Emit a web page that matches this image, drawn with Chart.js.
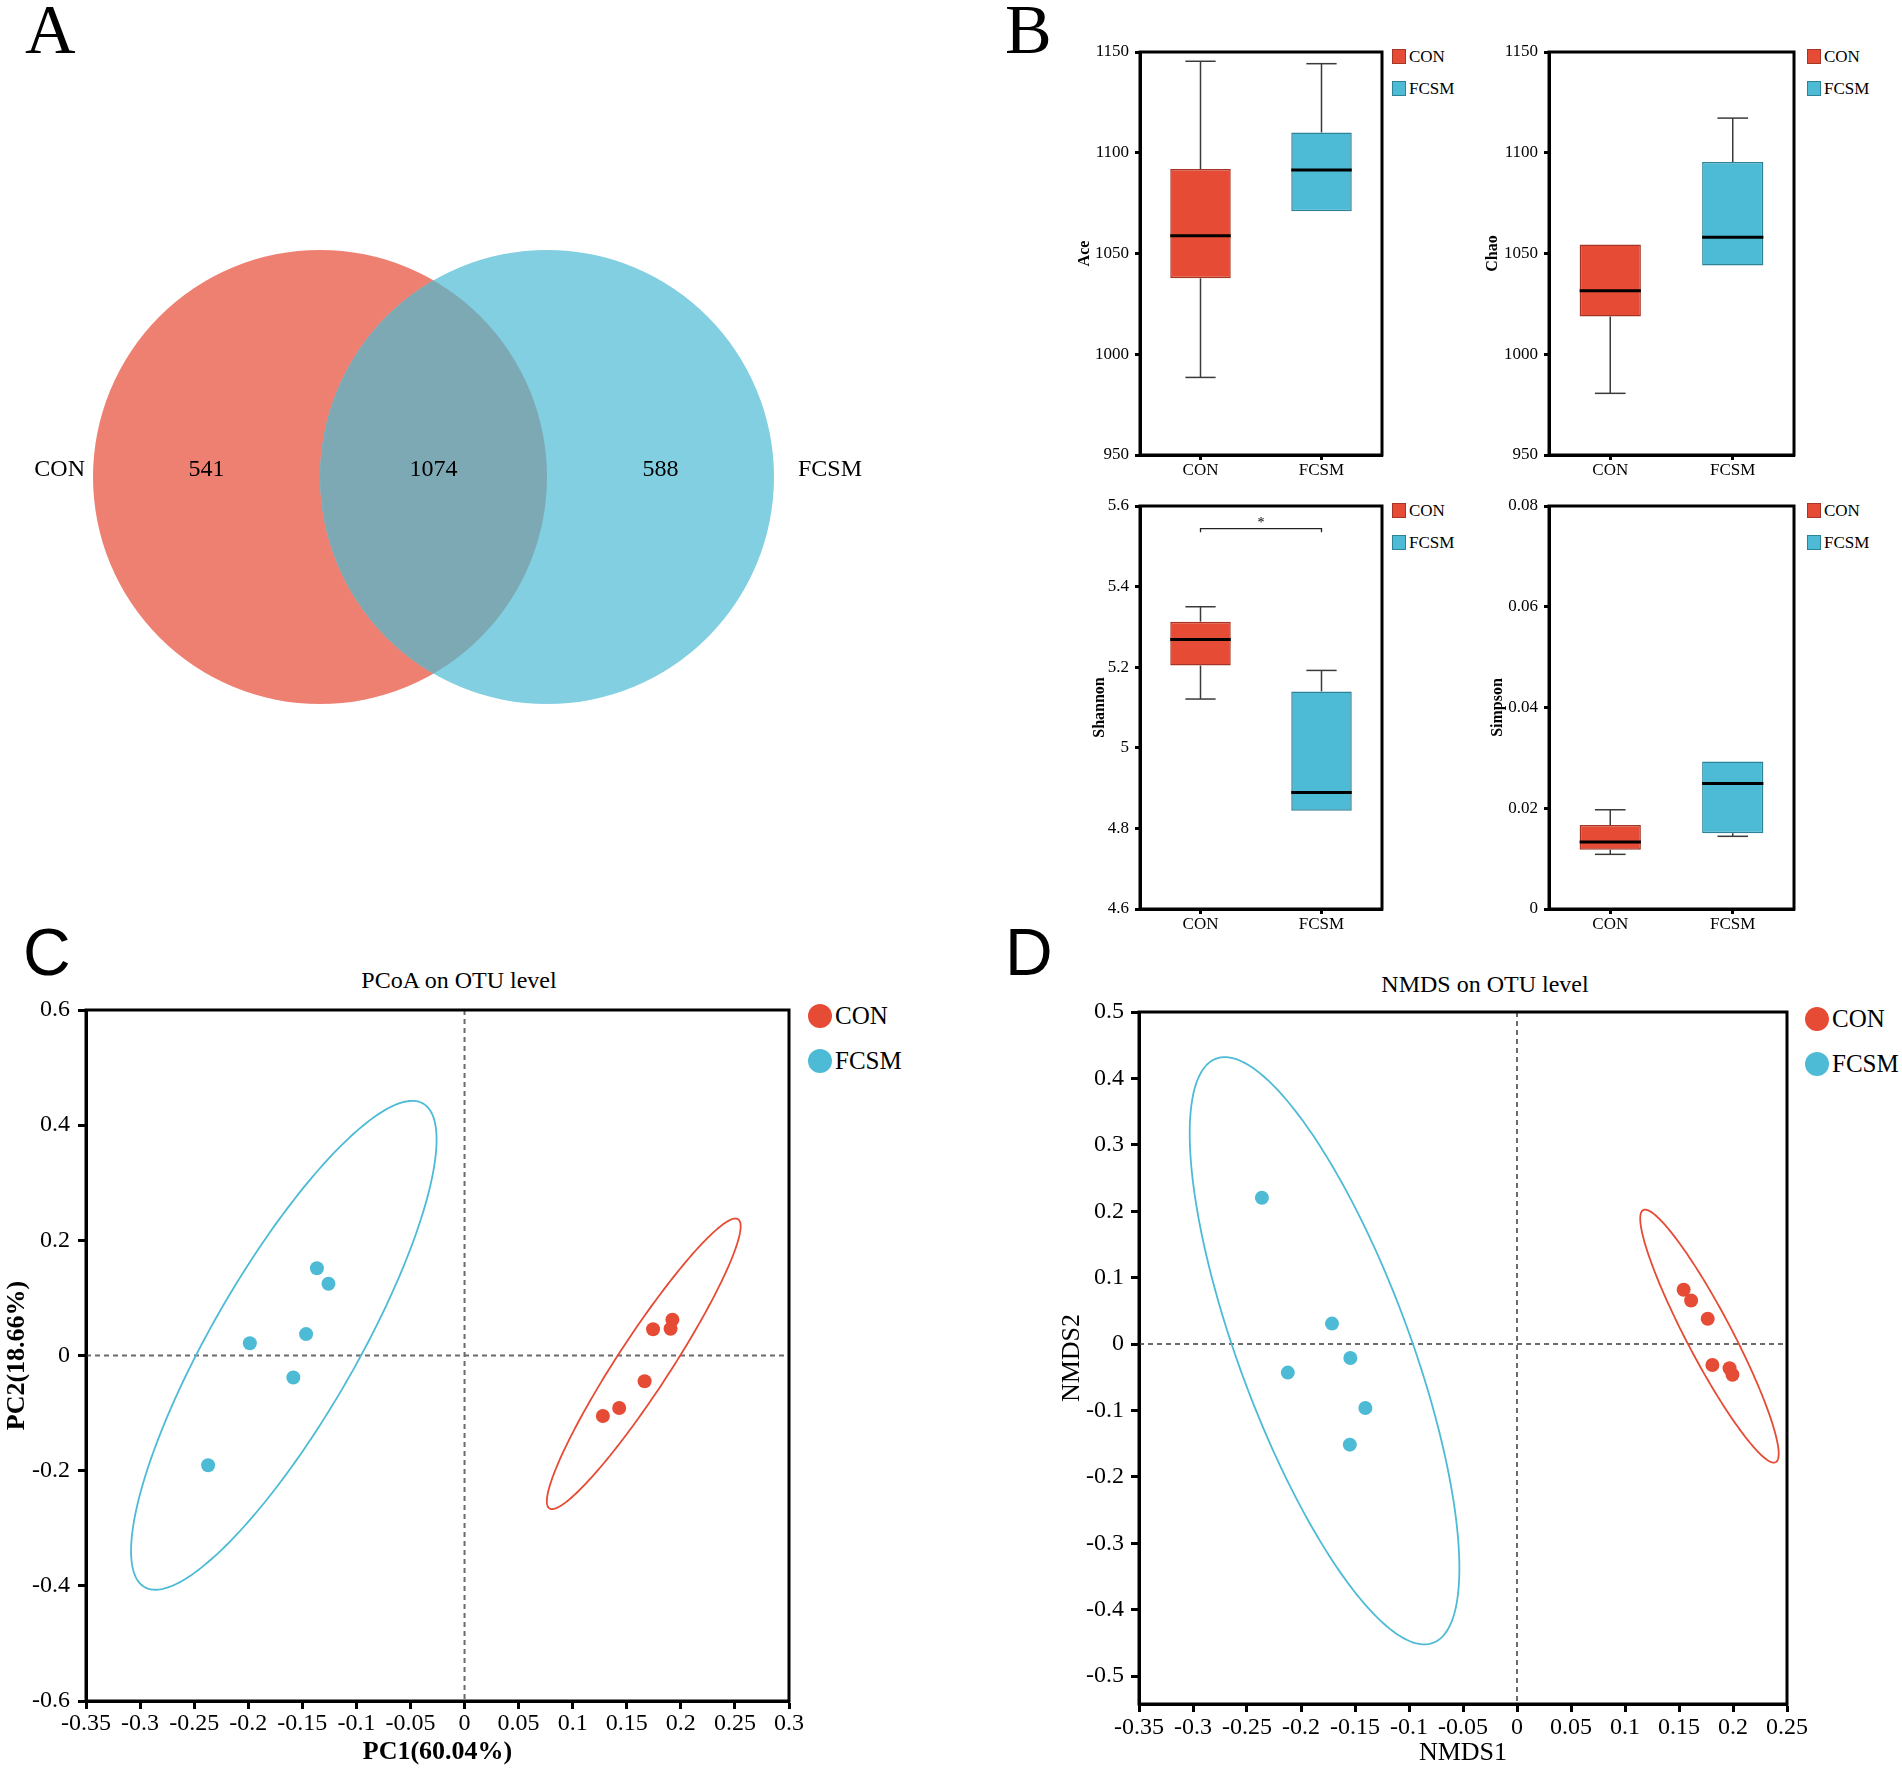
<!DOCTYPE html>
<html><head><meta charset="utf-8">
<script src="https://cdn.jsdelivr.net/npm/chart.js@4.4.1/dist/chart.umd.min.js"></script>
<style>
html,body{margin:0;padding:0;background:#fff;}
body{width:1902px;height:1769px;position:relative;overflow:hidden;font-family:"Liberation Serif","Times New Roman",serif;color:#000;}
canvas{position:absolute;}
.t{position:absolute;line-height:1;white-space:nowrap;}
.sq{position:absolute;width:14px;height:15px;box-sizing:border-box;border:1px solid;}
.dot{position:absolute;width:24px;height:24px;border-radius:50%;}
</style></head><body>
<div class="t" style="left:25px;top:-5px;font-size:70px;">A</div>
<div class="t" style="left:1005px;top:-5px;font-size:70px;">B</div>
<div class="t" style="left:23px;top:919px;font-size:66px;font-family:'Liberation Sans',Arial,sans-serif;">C</div>
<div class="t" style="left:1005px;top:919px;font-size:66px;font-family:'Liberation Sans',Arial,sans-serif;">D</div>
<div class="t" style="left:459px;top:968px;font-size:24px;transform:translateX(-50%);">PCoA on OTU level</div>
<div class="t" style="left:1485px;top:972px;font-size:24px;transform:translateX(-50%);">NMDS on OTU level</div>
<div id="legends"></div>
<script>
// ---------- DATA ----------
const groups = ['CON', 'FCSM'];
const vennUnique = [541, 588];
const vennShared = 1074;

// box statistics: [min, q1, median, q3, max]
const aceCON = [988.5, 1037.7, 1058.8, 1091.9, 1145.4];
const aceFCSM = [1071.0, 1071.0, 1091.4, 1110.1, 1144.2];
const chaoCON = [980.6, 1018.7, 1031.5, 1054.5, 1054.5];
const chaoFCSM = [1044.0, 1044.0, 1058.1, 1095.4, 1117.2];
const shannonCON = [5.121, 5.204, 5.269, 5.313, 5.350];
const shannonFCSM = [4.844, 4.844, 4.889, 5.140, 5.192];
const simpsonCON = [0.01085, 0.01178, 0.0133, 0.01667, 0.0197];
const simpsonFCSM = [0.01443, 0.01502, 0.0249, 0.0293, 0.0293];

const aceTicks = [950, 1000, 1050, 1100, 1150];
const chaoTicks = [950, 1000, 1050, 1100, 1150];
const shannonTicks = [4.6, 4.8, 5, 5.2, 5.4, 5.6];
const simpsonTicks = [0, 0.02, 0.04, 0.06, 0.08];
const shannonSig = ['*', 5.544];

// PCoA
const pcoaConX = [0.1922, 0.1743, 0.1905, 0.1665, 0.1430, 0.1279];
const pcoaConY = [0.0623, 0.0456, 0.0465, -0.0447, -0.0912, -0.1051];
const pcoaFcsmX = [-0.1365, -0.1258, -0.1985, -0.1465, -0.1583, -0.2371];
const pcoaFcsmY = [0.1516, 0.1247, 0.0214, 0.0372, -0.0381, -0.1907];
// confidence ellipses: [cx, cy, ux, uy, vx, vy]
const pcoaEllCon = [0.1657, -0.0144, 0.0869, 0.2514, 0.0218, -0.0209];
const pcoaEllFcsm = [-0.1671, 0.0177, 0.1273, 0.4213, 0.0612, -0.0523];
const pcoaXTicks = [-0.35, -0.3, -0.25, -0.2, -0.15, -0.1, -0.05, 0, 0.05, 0.1, 0.15, 0.2, 0.25, 0.3];
const pcoaYTicks = [-0.6, -0.4, -0.2, 0, 0.2, 0.4, 0.6];

// NMDS
const nmdsConX = [0.1543, 0.1612, 0.1766, 0.1809, 0.1968, 0.1995];
const nmdsConY = [0.0818, 0.0656, 0.0381, -0.0316, -0.0365, -0.0462];
const nmdsFcsmX = [-0.2362, -0.1713, -0.2122, -0.1543, -0.1404, -0.1548];
const nmdsFcsmY = [0.2204, 0.0308, -0.0430, -0.0211, -0.0964, -0.1515];
const nmdsEllCon = [0.1782, 0.0119, -0.0612, 0.1899, 0.0191, 0.0143];
const nmdsEllFcsm = [-0.1782, -0.0101, -0.0995, 0.4404, 0.0754, 0.0395];
const nmdsXTicks = [-0.35, -0.3, -0.25, -0.2, -0.15, -0.1, -0.05, 0, 0.05, 0.1, 0.15, 0.2, 0.25];
const nmdsYTicks = [-0.5, -0.4, -0.3, -0.2, -0.1, 0, 0.1, 0.2, 0.3, 0.4, 0.5];

// ---------- STYLE ----------
const SERIF = '"Liberation Serif","Times New Roman",serif';
Chart.defaults.font.family = SERIF;
Chart.defaults.color = '#000';
const RED = '#E64B35', BLUE = '#4DBBD5';
const REDD = '#A33626', BLUED = '#2E8297';
const fmt = v => String(Number(Number(v).toFixed(4)));

function mkCanvas(left, top, w, h) {
  const c = document.createElement('canvas');
  c.width = w; c.height = h;
  c.style.left = left + 'px'; c.style.top = top + 'px';
  c.style.width = w + 'px'; c.style.height = h + 'px';
  document.body.appendChild(c);
  return c;
}

const framePlugin = {
  id: 'frame',
  afterDraw(chart) {
    const a = chart.chartArea, ctx = chart.ctx;
    ctx.save(); ctx.strokeStyle = '#000'; ctx.lineWidth = 3;
    ctx.strokeRect(a.left, a.top, a.right - a.left, a.bottom - a.top);
    ctx.restore();
  }
};

const boxPlugin = {
  id: 'boxWhisker',
  afterDatasetsDraw(chart) {
    const ctx = chart.ctx, ys = chart.scales.y;
    chart.data.datasets.forEach((ds, di) => {
      const el = chart.getDatasetMeta(di).data[di];
      if (!el) return;
      const st = ds.stats, x = el.x, w = el.width, cap = w / 4;
      ctx.save();
      ctx.strokeStyle = '#3a3a3a'; ctx.lineWidth = 1.5;
      const seg = (x1, y1, x2, y2) => { ctx.beginPath(); ctx.moveTo(x1, y1); ctx.lineTo(x2, y2); ctx.stroke(); };
      if (st[4] > st[3]) {
        const yt = ys.getPixelForValue(st[4]);
        seg(x, ys.getPixelForValue(st[3]), x, yt); seg(x - cap, yt, x + cap, yt);
      }
      if (st[0] < st[1]) {
        const yb = ys.getPixelForValue(st[0]);
        seg(x, ys.getPixelForValue(st[1]), x, yb); seg(x - cap, yb, x + cap, yb);
      }
      ctx.strokeStyle = '#000'; ctx.lineWidth = 3;
      const ym = ys.getPixelForValue(st[2]);
      seg(x - w / 2, ym, x + w / 2, ym);
      ctx.restore();
    });
  }
};

const sigPlugin = {
  id: 'sig',
  afterDatasetsDraw(chart, args, o) {
    if (!o || !o.text) return;
    const ctx = chart.ctx, ys = chart.scales.y;
    const a = chart.getDatasetMeta(0).data[0], b = chart.getDatasetMeta(1).data[1];
    const y = ys.getPixelForValue(o.y), y2 = ys.getPixelForValue(o.y - o.drop);
    ctx.save();
    ctx.strokeStyle = '#222'; ctx.lineWidth = 1.3;
    ctx.beginPath(); ctx.moveTo(a.x, y2); ctx.lineTo(a.x, y); ctx.lineTo(b.x, y); ctx.lineTo(b.x, y2); ctx.stroke();
    ctx.fillStyle = '#000'; ctx.font = '14px ' + SERIF; ctx.textAlign = 'center'; ctx.textBaseline = 'bottom';
    ctx.fillText(o.text, (a.x + b.x) / 2, y + 2);
    ctx.restore();
  }
};

function boxChart(left, top, w, h, area, sCON, sFCSM, ticks, yTitle, titleOff, sig) {
  const c = mkCanvas(left, top, w, h);
  const yW = area.x0 - left, padTop = area.y0 - top, padRight = left + w - area.x1, xH = top + h - area.y1;
  const axisGrid = { display: true, drawOnChartArea: false, drawTicks: true, tickLength: 5, tickWidth: 3, tickColor: '#000', offset: false };
  const border = { display: true, width: 3, color: '#000' };
  new Chart(c, {
    type: 'bar',
    data: {
      labels: groups,
      datasets: [sCON, sFCSM].map((st, di) => ({
        label: groups[di],
        data: groups.map((g, i) => i === di ? [st[1], st[3]] : null),
        stats: st,
        backgroundColor: [RED, BLUE][di], borderColor: [REDD, BLUED][di],
        borderWidth: 1.5, borderSkipped: false, grouped: false,
        barPercentage: 0.5, categoryPercentage: 1
      }))
    },
    options: {
      responsive: false, devicePixelRatio: 1, animation: false,
      layout: { padding: { left: 0, top: padTop, right: padRight, bottom: 0 } },
      plugins: { legend: { display: false }, tooltip: { enabled: false },
        sig: sig ? { text: sig[0], y: sig[1], drop: (ticks[ticks.length - 1] - ticks[0]) * 0.009 } : {} },
      scales: {
        x: { afterFit: s => { s.height = xH; }, grid: axisGrid, border,
             ticks: { font: { size: 17, family: SERIF }, padding: 0, color: '#000' } },
        y: { min: ticks[0], max: ticks[ticks.length - 1],
             afterBuildTicks: s => { s.ticks = ticks.map(v => ({ value: v })); },
             afterFit: s => { s.width = yW; }, grid: axisGrid, border,
             ticks: { font: { size: 17, family: SERIF }, padding: 6, color: '#000', callback: v => fmt(v) },
             title: { display: true, text: yTitle, color: '#000', font: { size: 16, weight: 'bold', lineHeight: 1, family: SERIF }, padding: { top: titleOff - 8, bottom: 0 } } }
      }
    },
    plugins: [boxPlugin, sigPlugin, framePlugin]
  });
}

const zeroPlugin = {
  id: 'zeroLines',
  beforeDatasetsDraw(chart) {
    const ctx = chart.ctx, a = chart.chartArea, xs = chart.scales.x, ys = chart.scales.y;
    const px = xs.getPixelForValue(0), py = ys.getPixelForValue(0);
    ctx.save(); ctx.strokeStyle = '#6b6b6b'; ctx.lineWidth = 2; ctx.setLineDash([5, 4]);
    ctx.beginPath(); ctx.moveTo(px, a.top); ctx.lineTo(px, a.bottom); ctx.stroke();
    ctx.beginPath(); ctx.moveTo(a.left, py); ctx.lineTo(a.right, py); ctx.stroke();
    ctx.restore();
  }
};

const ellipsePlugin = {
  id: 'ellipses',
  beforeDatasetsDraw(chart) {
    const ctx = chart.ctx, xs = chart.scales.x, ys = chart.scales.y;
    chart.data.datasets.forEach(ds => {
      const e = ds.ellipse; if (!e) return;
      ctx.save(); ctx.strokeStyle = ds.backgroundColor; ctx.lineWidth = 1.8;
      ctx.beginPath();
      for (let k = 0; k <= 240; k++) {
        const t = k / 240 * 2 * Math.PI;
        const x = e[0] + e[2] * Math.cos(t) + e[4] * Math.sin(t);
        const y = e[1] + e[3] * Math.cos(t) + e[5] * Math.sin(t);
        const px = xs.getPixelForValue(x), py = ys.getPixelForValue(y);
        if (k === 0) ctx.moveTo(px, py); else ctx.lineTo(px, py);
      }
      ctx.closePath(); ctx.stroke(); ctx.restore();
    });
  }
};

function scatterChart(left, top, w, h, area, sets, xr, yr, xT, yT, xTitle, yTitle, bold, titleY, titleX, xPad, yPad) {
  const c = mkCanvas(left, top, w, h);
  const yW = area.x0 - left, padTop = area.y0 - top, padRight = left + w - area.x1, xH = top + h - area.y1;
  const axisGrid = { display: true, drawOnChartArea: false, drawTicks: true, tickLength: 8, tickWidth: 3, tickColor: '#000' };
  const border = { display: true, width: 3, color: '#000' };
  new Chart(c, {
    type: 'scatter',
    data: {
      datasets: sets.map(s => ({
        label: s.label,
        data: s.x.map((v, i) => ({ x: v, y: s.y[i] })),
        ellipse: s.ell,
        backgroundColor: s.color, borderColor: s.color, borderWidth: 0,
        pointRadius: 7, pointHoverRadius: 7
      }))
    },
    options: {
      responsive: false, devicePixelRatio: 1, animation: false,
      layout: { padding: { left: 0, top: padTop, right: padRight, bottom: 0 } },
      plugins: { legend: { display: false }, tooltip: { enabled: false } },
      scales: {
        x: { type: 'linear', min: xr[0], max: xr[1],
             afterBuildTicks: s => { s.ticks = xT.map(v => ({ value: v })); },
             afterFit: s => { s.height = xH; }, grid: axisGrid, border,
             ticks: { font: { size: 24, family: SERIF }, padding: xPad, color: '#000', autoSkip: false, maxRotation: 0, minRotation: 0, callback: v => fmt(v) },
             title: { display: true, text: xTitle, color: '#000', font: { size: 26, weight: bold ? 'bold' : 'normal', lineHeight: 1, family: SERIF }, padding: { top: 0, bottom: titleX - 13 } } },
        y: { type: 'linear', min: yr[0], max: yr[1],
             afterBuildTicks: s => { s.ticks = yT.map(v => ({ value: v })); },
             afterFit: s => { s.width = yW; }, grid: axisGrid, border,
             ticks: { font: { size: 24, family: SERIF }, padding: yPad, color: '#000', autoSkip: false, callback: v => fmt(v) },
             title: { display: true, text: yTitle, color: '#000', font: { size: 26, weight: bold ? 'bold' : 'normal', lineHeight: 1, family: SERIF }, padding: { top: titleY - 13, bottom: 0 } } }
      }
    },
    plugins: [zeroPlugin, ellipsePlugin, framePlugin]
  });
}

// ---------- A: Venn ----------
const vennGeom = { cx: [320, 547], cy: 477, r: 227 };
const vennColors = ['#EE8072', '#82CFE1', '#7DA9B5'];
const vennPlugin = {
  id: 'venn',
  afterDraw(chart) {
    const ctx = chart.ctx, xs = chart.scales.x, ys = chart.scales.y;
    const c1 = xs.getPixelForValue(vennGeom.cx[0]), c2 = xs.getPixelForValue(vennGeom.cx[1]);
    const cy = ys.getPixelForValue(vennGeom.cy);
    const r = xs.getPixelForValue(vennGeom.cx[0] + vennGeom.r) - c1;
    const circ = cx => { ctx.beginPath(); ctx.arc(cx, cy, r, 0, 2 * Math.PI); };
    ctx.save();
    ctx.fillStyle = vennColors[0]; circ(c1); ctx.fill();
    ctx.fillStyle = vennColors[1]; circ(c2); ctx.fill();
    ctx.save(); circ(c1); ctx.clip(); ctx.fillStyle = vennColors[2]; circ(c2); ctx.fill(); ctx.restore();
    ctx.fillStyle = '#000'; ctx.font = '24px ' + SERIF; ctx.textBaseline = 'middle';
    const ty = cy - 7;
    ctx.textAlign = 'center';
    ctx.fillText(String(vennUnique[0]), ((c1 - r) + (c2 - r)) / 2, ty);
    ctx.fillText(String(vennShared), ((c2 - r) + (c1 + r)) / 2, ty);
    ctx.fillText(String(vennUnique[1]), ((c1 + r) + (c2 + r)) / 2, ty);
    ctx.textAlign = 'right'; ctx.fillText(groups[0], c1 - r - 8, ty);
    ctx.textAlign = 'left'; ctx.fillText(groups[1], c2 + r + 24, ty);
    ctx.restore();
  }
};
new Chart(mkCanvas(0, 0, 900, 750), {
  type: 'scatter',
  data: { datasets: [{ label: 'venn', data: [] }] },
  options: {
    responsive: false, devicePixelRatio: 1, animation: false,
    layout: { padding: 0 },
    plugins: { legend: { display: false }, tooltip: { enabled: false } },
    scales: { x: { display: false, min: 0, max: 900 }, y: { display: false, min: 0, max: 750, reverse: true } }
  },
  plugins: [vennPlugin]
});

// ---------- B: box plots ----------
boxChart(1050, 22, 342, 470, { x0: 1140, x1: 1382, y0: 52, y1: 455 }, aceCON, aceFCSM, aceTicks, 'Ace', 35, null);
boxChart(1459, 22, 345, 470, { x0: 1549, x1: 1794, y0: 52, y1: 455 }, chaoCON, chaoFCSM, chaoTicks, 'Chao', 34, null);
boxChart(1050, 476, 342, 470, { x0: 1140, x1: 1382, y0: 506, y1: 909 }, shannonCON, shannonFCSM, shannonTicks, 'Shannon', 50, shannonSig);
boxChart(1459, 476, 345, 470, { x0: 1549, x1: 1794, y0: 506, y1: 909 }, simpsonCON, simpsonFCSM, simpsonTicks, 'Simpson', 39, null);

// ---------- C: PCoA ----------
scatterChart(0, 930, 830, 839, { x0: 86, x1: 789, y0: 1010, y1: 1701 },
  [{ label: groups[0], x: pcoaConX, y: pcoaConY, ell: pcoaEllCon, color: RED },
   { label: groups[1], x: pcoaFcsmX, y: pcoaFcsmY, ell: pcoaEllFcsm, color: BLUE }],
  [-0.35, 0.3], [-0.6, 0.6], pcoaXTicks, pcoaYTicks, 'PC1(60.04%)', 'PC2(18.66%)', true, 17, 17, 0, 8);

// ---------- D: NMDS ----------
scatterChart(1000, 930, 902, 839, { x0: 1139, x1: 1787, y0: 1012, y1: 1704 },
  [{ label: groups[0], x: nmdsConX, y: nmdsConY, ell: nmdsEllCon, color: RED },
   { label: groups[1], x: nmdsFcsmX, y: nmdsFcsmY, ell: nmdsEllFcsm, color: BLUE }],
  [-0.35, 0.25], [-0.542, 0.5], nmdsXTicks, nmdsYTicks, 'NMDS1', 'NMDS2', false, 72, 16, 1, 7);

// ---------- Legends (HTML) ----------
const L = document.getElementById('legends');
function sqLegend(x, y0, y1) {
  [[y0, RED, REDD], [y1, BLUE, BLUED]].forEach(([y, c, b], i) => {
    const s = document.createElement('div'); s.className = 'sq';
    s.style.left = x + 'px'; s.style.top = y + 'px'; s.style.background = c; s.style.borderColor = b;
    L.appendChild(s);
    const t = document.createElement('div'); t.className = 't'; t.textContent = groups[i];
    t.style.left = (x + 17) + 'px'; t.style.top = (y - 1) + 'px'; t.style.fontSize = '17px';
    L.appendChild(t);
  });
}
sqLegend(1392, 49, 81); sqLegend(1807, 49, 81);
sqLegend(1392, 503, 535); sqLegend(1807, 503, 535);
function dotLegend(x, yc0, yc1) {
  [[yc0, RED], [yc1, BLUE]].forEach(([yc, c], i) => {
    const d = document.createElement('div'); d.className = 'dot';
    d.style.left = (x - 12) + 'px'; d.style.top = (yc - 12) + 'px'; d.style.background = c;
    L.appendChild(d);
    const t = document.createElement('div'); t.className = 't'; t.textContent = groups[i];
    t.style.left = (x + 15) + 'px'; t.style.top = (yc - 13) + 'px'; t.style.fontSize = '25px';
    L.appendChild(t);
  });
}
dotLegend(820, 1016, 1061);
dotLegend(1817, 1019, 1064);
</script>
</body></html>
